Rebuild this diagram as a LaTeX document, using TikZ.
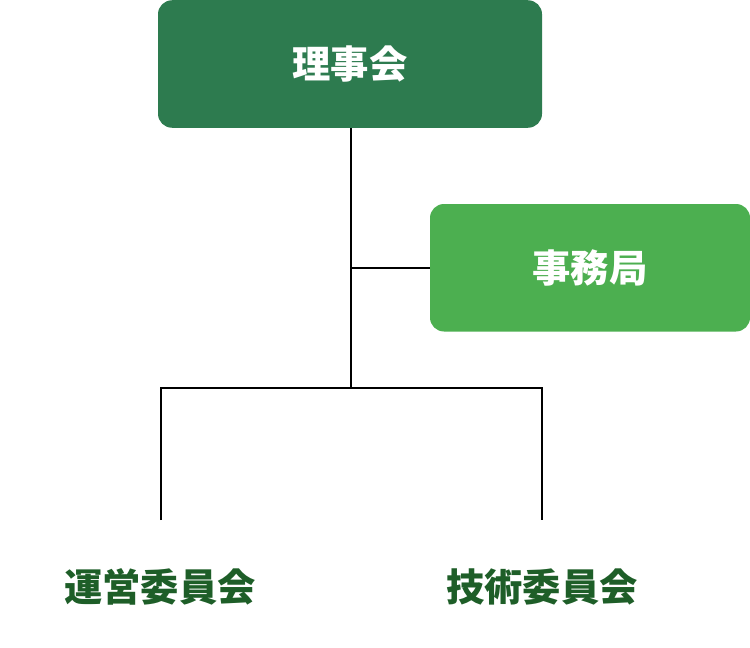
\documentclass[tikz,border=0pt]{standalone}
\usepackage{fontspec}
\usepackage{tikz}
\newfontfamily\cjk{Noto Sans CJK JP}
\usetikzlibrary{positioning}
\tikzset{box/.style = {rounded corners = 0.28cm, inner sep = 0, minimum height = 2.55cm,
                       text = white, font = \cjk\bfseries\fontsize{21.8}{26}\selectfont}}
\tikzset{cmte/.style = {inner sep = 0, text = tgreen, font = \cjk\bfseries\fontsize{21.8}{26}\selectfont}}
\tikzset{line/.style = {line width = 1.1pt}}
\definecolor{dgreen}{HTML}{2D7B4F}
\definecolor{lgreen}{HTML}{4CAF50}
\definecolor{tgreen}{HTML}{1E5E28}

\begin{document}
\begin{tikzpicture}
           \useasboundingbox (0, 0) rectangle (15, -12.96);

           \node [box, fill = dgreen, minimum width = 7.68cm] (board) at (7.0, -1.28) {理事会};
           \node [box, fill = lgreen, minimum width = 6.4cm] (office) at (11.8, -5.355) {事務局};

           \coordinate (join) at (7.02, -7.76);
           \coordinate (tap) at (join |- office.west);
           \coordinate (left) at (3.22, -7.76);
           \coordinate (right) at (10.84, -7.76);
           \coordinate (lend) at (3.22, -10.4);
           \coordinate (rend) at (10.84, -10.4);

           \node [cmte] (ops) at (3.2, -11.74) {運営委員会};
           \node [cmte] (tech) at (10.84, -11.74) {技術委員会};

           \draw [line] (board.south -| join) -- (join);
           \draw [line] (tap) -- (office.west);
           \draw [line] (lend) -- (left) -- (right) -- (rend);
         \end{tikzpicture}
\end{document}
